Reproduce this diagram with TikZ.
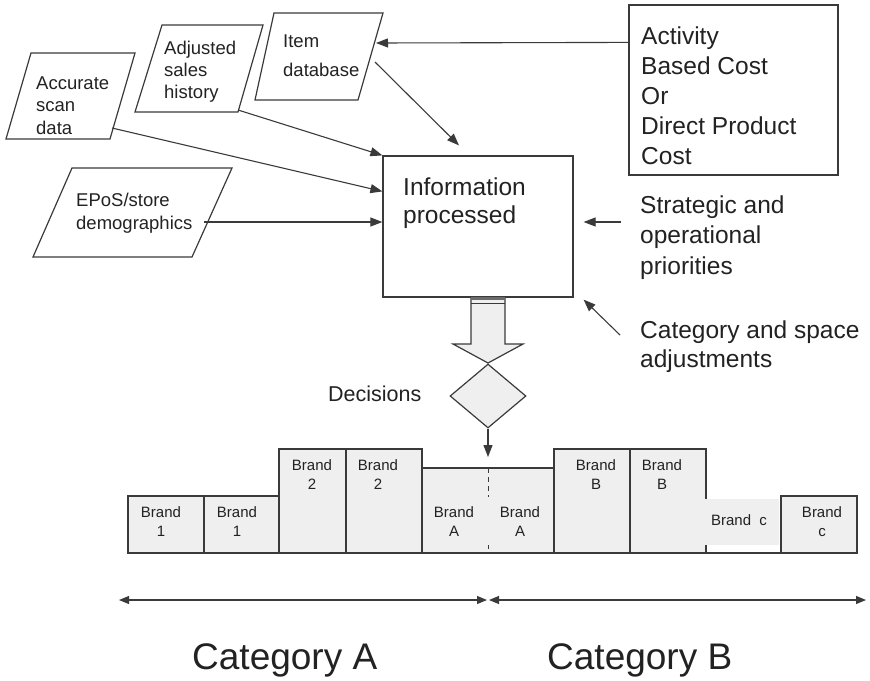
\documentclass[tikz,border=0pt]{standalone}
\usepackage{fontspec}
\setmainfont{Liberation Sans}
\usetikzlibrary{arrows.meta,shapes.geometric,calc}
\definecolor{ink}{HTML}{222222}
\definecolor{edge}{HTML}{3A3A3A}
\definecolor{panel}{HTML}{EFEFEF}
% stacked lines with a fixed baseline distance; the box baseline is the first line
\newcommand\stackL[2]{\vtop{\baselineskip=#1\relax\halign{##\hfil\cr#2\crcr}}}
\newcommand\stackC[2]{\vtop{\baselineskip=#1\relax\halign{\hfil##\hfil\cr#2\crcr}}}
\begin{document}
\begin{tikzpicture}[x=1pt,y=-1pt,
  every node/.style={inner sep=0pt, text=ink},
  outline/.style={draw=edge, line width=1.2pt},
  boxfill/.style={draw=edge, line width=1.2pt, fill=panel},
  arr/.style={draw=edge, line width=1.1pt, -{Triangle[length=12pt,width=9pt]}},
  bigtxt/.style={font=\fontsize{24.5}{30}\selectfont, anchor=base west},
  midtxt/.style={font=\fontsize{18.5}{22}\selectfont, anchor=base west},
  brandtxt/.style={font=\fontsize{15}{19}\selectfont, anchor=base},
  cattxt/.style={font=\fontsize{37}{44}\selectfont, anchor=base west},
  spanarrow/.style={draw=edge, line width=1.1pt,
    {Triangle[length=10pt,width=8pt]}-{Triangle[length=10pt,width=8pt]}},
]
\useasboundingbox (0,0) rectangle (870,680);

% ---- central processing box ----
\node[outline, minimum width=190pt, minimum height=141pt] (info) at (478,226.5) {};
\node[bigtxt] (infotxt) at (403,195) {\stackL{28.5pt}{Information\cr processed}};

% ---- cost box ----
\node[outline, minimum width=209pt, minimum height=170pt] (act) at (733.5,90) {};
\node[bigtxt] (acttxt) at (641,44) {\stackL{30pt}{Activity\cr Based Cost\cr Or\cr Direct Product\cr Cost}};

% ---- side inputs ----
\node[bigtxt] (strat) at (640,213) {\stackL{30.5pt}{Strategic and\cr operational\cr priorities}};
\node[bigtxt] (catadj) at (640,338) {\stackL{29pt}{Category and space\cr adjustments}};

% ---- data inputs (parallelograms) ----
\draw[outline] (31,53) -- (135,53) -- (110,139) -- (6,139) -- cycle;
\node[midtxt] (scan) at (36,89) {\stackL{22.5pt}{Accurate\cr scan\cr data}};
\draw[outline] (162,25) -- (263,25) -- (238,112) -- (135,112) -- cycle;
\node[midtxt] (sales) at (164,54) {\stackL{22pt}{Adjusted\cr sales\cr history}};
\draw[outline] (274,13) -- (383,13) -- (358,100) -- (255,100) -- cycle;
\node[midtxt] (item) at (283,47) {\stackL{29pt}{Item\cr database}};
\draw[outline] (72,168) -- (232,168) -- (192,257) -- (33,257) -- cycle;
\node[midtxt] (epos) at (76,206) {\stackL{23.5pt}{EPoS/store\cr demographics}};

% connector end points on the parallelogram edges
\coordinate (scanout) at (112,128);
\coordinate (salesout) at (238,110);
\coordinate (itemout) at (375,62);
\coordinate (itemin) at (376,43);
\coordinate (eposout) at (204,222);
\coordinate (stratout) at (621,222);
\coordinate (catout) at (620,335);

% ---- connectors into the processing box ----
\draw[arr] ($(act.north west)+(0,38)$) -- (itemin);
\draw[arr] (salesout) -- (info.north west);
\draw[arr] (scanout) -- ($(info.north west)+(0,36)$);
\draw[arr] (eposout) -- (info.west |- eposout);
\draw[arr] (itemout) -- ($(info.north)+(-19,-10)$);
\draw[arr] (stratout) -- ($(info.east |- stratout)+(10,0)$);
\draw[arr] (catout) -- ($(info.south east)+(10,2)$);

% ---- block arrow down to the decision ----
\draw[boxfill] (471,297) -- (505,297) -- (505,344) -- (523,344) -- (488,363)
  -- (453,344) -- (471,344) -- cycle;
\fill[edge!75] (471,296.5) rectangle (505,300);
\draw[edge, line width=0.9pt] (471,303.5) -- (505,303.5);

\node[diamond, boxfill, minimum width=76pt, minimum height=64pt] (dec) at (488,396) {};
\node[font=\fontsize{21.5}{26}\selectfont, anchor=base west] (dectxt) at (328,401) {Decisions};
\coordinate (shelfin) at (488,457);
\draw[arr] (dec.south) -- (shelfin);

% ---- shelf layout ----
\draw[boxfill] (128,496) rectangle (204,553);
\draw[boxfill] (204,496) rectangle (279,553);
\draw[boxfill] (279,449) rectangle (346,553);
\draw[boxfill] (346,449) rectangle (422,553);
\draw[boxfill] (422,468) rectangle (554,553);
\draw[boxfill] (554,449) rectangle (630,553);
\draw[boxfill] (630,449) rectangle (706,553);
\fill[panel] (705,499) rectangle (779,545);
\draw[boxfill] (781,496) rectangle (857,553);
\draw[outline] (128,553) -- (857,553);
\draw[edge, line width=1pt, dash pattern=on 5pt off 4pt] (488,468) -- (488,497);
\draw[edge, line width=1pt, dash pattern=on 4pt off 3pt] (488,545) -- (488,553);

\node[brandtxt] (t1a) at (161,517) {\stackC{19pt}{Brand\cr 1}};
\node[brandtxt] (t1b) at (237,517) {\stackC{19pt}{Brand\cr 1}};
\node[brandtxt] (t2a) at (312,470) {\stackC{19pt}{Brand\cr 2}};
\node[brandtxt] (t2b) at (378,470) {\stackC{19pt}{Brand\cr 2}};
\node[brandtxt] (tAa) at (454,517) {\stackC{19pt}{Brand\cr A}};
\node[brandtxt] (tAb) at (520,517) {\stackC{19pt}{Brand\cr A}};
\node[brandtxt] (tBa) at (596,470) {\stackC{19pt}{Brand\cr B}};
\node[brandtxt] (tBb) at (662,470) {\stackC{19pt}{Brand\cr B}};
\node[brandtxt] (tCa) at (739,525) {Brand\ \ c};
\node[brandtxt] (tCb) at (822,517) {\stackC{19pt}{Brand\cr c}};

% ---- category spans ----
\coordinate (axL) at (119,600);
\coordinate (axM) at (488,600);
\coordinate (axR) at (866,600);
\draw[spanarrow] (axL) -- ($(axM)+(-1,0)$);
\draw[spanarrow] ($(axM)+(1,0)$) -- (axR);
\node[cattxt] (catA) at (192,669) {Category A};
\node[cattxt] (catB) at (547,669) {Category B};
\end{tikzpicture}
\end{document}
